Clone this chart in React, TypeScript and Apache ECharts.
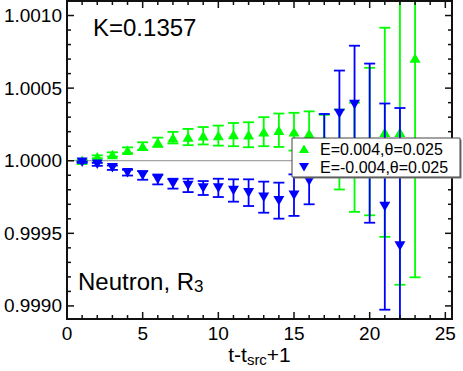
import { useEffect, useRef } from 'react';
import * as echarts from 'echarts';

// ---- data ----
const T_GREEN = [1, 2, 3, 4, 5, 6, 7, 8, 9, 10, 11, 12, 13, 14, 15, 16, 17, 18, 19, 20, 21, 22, 23];
const Y_GREEN = [
  1.000003, 1.000027, 1.000043, 1.000072, 1.0001, 1.000127, 1.000159, 1.000163, 1.000172, 1.000173,
  1.00018, 1.000179, 1.0002, 1.00021, 1.0002, 1.000187, 1.000146, 1.000077, 1.000024, 1.000132,
  1.000196, 1.000196, 1.000707,
];
const E_GREEN = [
  0.000005, 0.00001, 0.000015, 0.00002, 0.000027, 0.000032, 0.00004, 0.000056, 0.00006, 0.000069,
  0.00008, 0.000086, 0.0001, 0.000115, 0.00013, 0.000153, 0.00017, 0.000275, 0.000376, 0.000508,
  0.00072, 0.00105, 0.00151,
];
const T_BLUE = [1, 2, 3, 4, 5, 6, 7, 8, 9, 10, 11, 12, 13, 14, 15, 16, 17, 18, 19, 20, 21, 22];
const Y_BLUE = [
  0.99999, 0.999975, 0.999952, 0.999918, 0.999899, 0.999871, 0.999842, 0.99983, 0.999812, 0.999813,
  0.999795, 0.99978, 0.999749, 0.999725, 0.999763, 0.99986, 1.000112, 1.000325, 1.000387, 1.000121,
  0.999684, 0.999413,
];
const E_BLUE = [
  0.000005, 0.00001, 0.000015, 0.00002, 0.00003, 0.000034, 0.000034, 0.000046, 0.000048, 0.000063,
  0.000077, 0.000092, 0.000107, 0.000124, 0.000143, 0.00016, 0.00021, 0.000296, 0.000405, 0.000548,
  0.00071, 0.00095,
];
const NAME_GREEN = 'E=0.004,\u03b8=0.025';
const NAME_BLUE = 'E=-0.004,\u03b8=0.025';

// ---- axes ----
const X_MIN = 0;
const X_MAX = 25.44;
const X_STEP = 5;
const Y_MIN = 0.99891;
const Y_MAX = 1.0011;
const Y_STEP = 0.0005;
const REF_VALUE = 1.0;

const X_MAJOR = [0, 5, 10, 15, 20, 25];
const X_MINOR = [1, 2, 3, 4, 6, 7, 8, 9, 11, 12, 13, 14, 16, 17, 18, 19, 21, 22, 23, 24];
const Y_MAJOR = [0.999, 0.9995, 1.0, 1.0005, 1.001];
const Y_MINOR = [
  0.9991, 0.9992, 0.9993, 0.9994, 0.9996, 0.9997, 0.9998, 0.9999,
  1.0001, 1.0002, 1.0003, 1.0004, 1.0006, 1.0007, 1.0008, 1.0009,
];

const GRID_LEFT = 67;
const GRID_TOP = 1;
const GRID_W = 385;
const GRID_H = 318;
const MAJOR_LEN = 7;
const MINOR_LEN = 4;
const TICK_W = 1.5;

const GREEN = '#00ff00';
const BLUE = '#0000ff';
const INK = '#111111';
const FONT = 'Liberation Sans, Arial, Helvetica, sans-serif';

const isMultiple = (v: number, step: number) => Math.abs(v / step - Math.round(v / step)) < 1e-6;

function axis(kind: 'x' | 'y', position: string, labels: boolean) {
  const isX = kind === 'x';
  const o: any = {
    type: 'value',
    position,
    min: isX ? X_MIN : Y_MIN,
    max: isX ? X_MAX : Y_MAX,
    axisLine: { show: true, onZero: false, lineStyle: { color: INK, width: 2 } },
    splitLine: { show: false },
    axisTick: { show: false },
    axisLabel: labels
      ? {
          show: true,
          fontSize: 19,
          fontFamily: FONT,
          color: '#000',
          margin: isX ? 4.5 : 5,
          formatter: (v: number) =>
            isX
              ? isMultiple(v, X_STEP) ? String(Math.round(v)) : ''
              : isMultiple(v, Y_STEP) ? v.toFixed(4) : '',
        }
      : { show: false },
  };
  if (isX) o.interval = X_STEP;
  else {
    o.minInterval = Y_STEP;
    o.maxInterval = Y_STEP;
  }
  return o;
}

function errorBars(color: string) {
  return (params: any, api: any) => {
    const x = api.value(0);
    const y = api.value(1);
    const e = api.value(2);
    const cs = params.coordSys;
    const top = api.coord([x, y + e]);
    const bot = api.coord([x, y - e]);
    const yTop = Math.max(top[1], cs.y);
    const yBot = Math.min(bot[1], cs.y + cs.height);
    const hw = 5.5;
    const st = { stroke: color, lineWidth: 1.8 };
    const children: any[] = [
      { type: 'line', shape: { x1: top[0], y1: yTop, x2: top[0], y2: yBot }, style: st },
    ];
    if (top[1] >= cs.y) {
      children.push({ type: 'line', shape: { x1: top[0] - hw, y1: top[1], x2: top[0] + hw, y2: top[1] }, style: st });
    }
    if (bot[1] <= cs.y + cs.height) {
      children.push({ type: 'line', shape: { x1: bot[0] - hw, y1: bot[1], x2: bot[0] + hw, y2: bot[1] }, style: st });
    }
    return { type: 'group', children };
  };
}

// inward tick marks on the four sides, placed by the axes' scales
function tickItems() {
  const items: any[] = [];
  const xt = (v: number, len: number) => {
    items.push({ value: [v, Y_MIN], symbolSize: [TICK_W, len], symbolOffset: [0, -len / 2] });
    items.push({ value: [v, Y_MAX], symbolSize: [TICK_W, len], symbolOffset: [0, len / 2] });
  };
  const yt = (v: number, len: number) => {
    items.push({ value: [X_MIN, v], symbolSize: [len, TICK_W], symbolOffset: [len / 2, 0] });
    items.push({ value: [X_MAX, v], symbolSize: [len, TICK_W], symbolOffset: [-len / 2, 0] });
  };
  X_MAJOR.forEach((v) => xt(v, MAJOR_LEN));
  X_MINOR.forEach((v) => xt(v, MINOR_LEN));
  Y_MAJOR.forEach((v) => yt(v, MAJOR_LEN));
  Y_MINOR.forEach((v) => yt(v, MINOR_LEN));
  return items;
}

export default function App() {
  const ref = useRef<HTMLDivElement>(null);

  useEffect(() => {
    if (!ref.current) return;
    const chart = echarts.init(ref.current, null, { renderer: 'svg' });
    const greenData = T_GREEN.map((t, i) => [t, Y_GREEN[i], E_GREEN[i]]);
    const blueData = T_BLUE.map((t, i) => [t, Y_BLUE[i], E_BLUE[i]]);

    chart.setOption({
      animation: false,
      grid: {
        left: GRID_LEFT,
        top: GRID_TOP,
        width: GRID_W,
        height: GRID_H,
        outerBoundsMode: 'none',
        containLabel: false,
        show: true,
        borderColor: INK,
        borderWidth: 2,
        backgroundColor: 'transparent',
      },
      xAxis: [axis('x', 'bottom', true), axis('x', 'top', false)],
      yAxis: [axis('y', 'left', true), axis('y', 'right', false)],
      graphic: [
        {
          type: 'text',
          x: 93,
          y: 27.7,
          style: { text: 'K=0.1357', fontSize: 24, fontFamily: FONT, fill: '#000', verticalAlign: 'middle' },
          z: 100,
        },
        {
          type: 'text',
          x: 78,
          y: 281.3,
          style: {
            text: '{a|Neutron, R}{b|3}',
            verticalAlign: 'middle',
            fill: '#000',
            rich: {
              a: { fontSize: 24, fontFamily: FONT, fill: '#000', lineHeight: 28 },
              b: { fontSize: 17, fontFamily: FONT, fill: '#000', lineHeight: 9, verticalAlign: 'bottom' },
            },
          },
          z: 100,
        },
        {
          type: 'text',
          x: GRID_LEFT + GRID_W / 2,
          y: 354.3,
          style: {
            text: '{a|t-t}{b|src}{a|+1}',
            align: 'center',
            verticalAlign: 'middle',
            fill: '#000',
            rich: {
              a: { fontSize: 21, fontFamily: FONT, fill: '#000', lineHeight: 26 },
              b: { fontSize: 15, fontFamily: FONT, fill: '#000', lineHeight: 9, verticalAlign: 'bottom' },
            },
          },
          z: 100,
        },
        // legend box
        {
          type: 'rect',
          shape: { x: 293.5, y: 139.5, width: 168, height: 39 },
          style: { fill: '#777' },
          z: 90,
        },
        {
          type: 'rect',
          shape: { x: 292, y: 138, width: 168, height: 39 },
          style: { fill: '#fff', stroke: '#444', lineWidth: 1 },
          z: 91,
        },
        {
          type: 'polygon',
          shape: { points: [[299, 153], [309, 153], [304, 144.5]] },
          style: { fill: GREEN },
          z: 92,
        },
        {
          type: 'text',
          x: 320,
          y: 149,
          style: { text: NAME_GREEN, fontSize: 16, fontFamily: FONT, fill: '#000', verticalAlign: 'middle' },
          z: 92,
        },
        {
          type: 'polygon',
          shape: { points: [[299, 163], [309, 163], [304, 171.5]] },
          style: { fill: BLUE },
          z: 92,
        },
        {
          type: 'text',
          x: 320,
          y: 167.5,
          style: { text: NAME_BLUE, fontSize: 16, fontFamily: FONT, fill: '#000', verticalAlign: 'middle' },
          z: 92,
        },
      ],
      series: [
        {
          name: 'reference',
          type: 'line',
          data: [[X_MIN, REF_VALUE], [X_MAX, REF_VALUE]],
          symbol: 'none',
          lineStyle: { color: '#8c8c8c', width: 1 },
          silent: true,
          z: 1,
        },
        {
          name: 'green-err',
          type: 'custom',
          data: greenData,
          encode: { x: 0, y: 1 },
          renderItem: errorBars(GREEN),
          z: 2,
        },
        {
          name: NAME_GREEN,
          type: 'scatter',
          data: greenData.map((d) => [d[0], d[1]]),
          symbol: 'triangle',
          symbolSize: [11, 9.5],
          itemStyle: { color: GREEN, opacity: 1 },
          z: 3,
        },
        {
          name: 'blue-err',
          type: 'custom',
          data: blueData,
          encode: { x: 0, y: 1 },
          renderItem: errorBars(BLUE),
          z: 4,
        },
        {
          name: NAME_BLUE,
          type: 'scatter',
          data: blueData.map((d) => [d[0], d[1]]),
          symbol: 'triangle',
          symbolRotate: 180,
          symbolSize: [11, 9.5],
          itemStyle: { color: BLUE, opacity: 1 },
          z: 5,
        },
        {
          name: 'ticks',
          type: 'scatter',
          data: tickItems(),
          symbol: 'rect',
          itemStyle: { color: INK, opacity: 1 },
          clip: false,
          silent: true,
          z: 6,
        },
        {
          name: 'frame',
          type: 'line',
          data: [[X_MIN, Y_MIN], [X_MAX, Y_MIN], [X_MAX, Y_MAX], [X_MIN, Y_MAX], [X_MIN, Y_MIN]],
          symbol: 'none',
          lineStyle: { color: INK, width: 2 },
          clip: false,
          silent: true,
          z: 7,
        },
      ],
    });
    return () => chart.dispose();
  }, []);

  return (
    <div
      ref={ref}
      style={{ position: 'absolute', left: 0, top: 0, width: 463, height: 371 }}
    />
  );
}
